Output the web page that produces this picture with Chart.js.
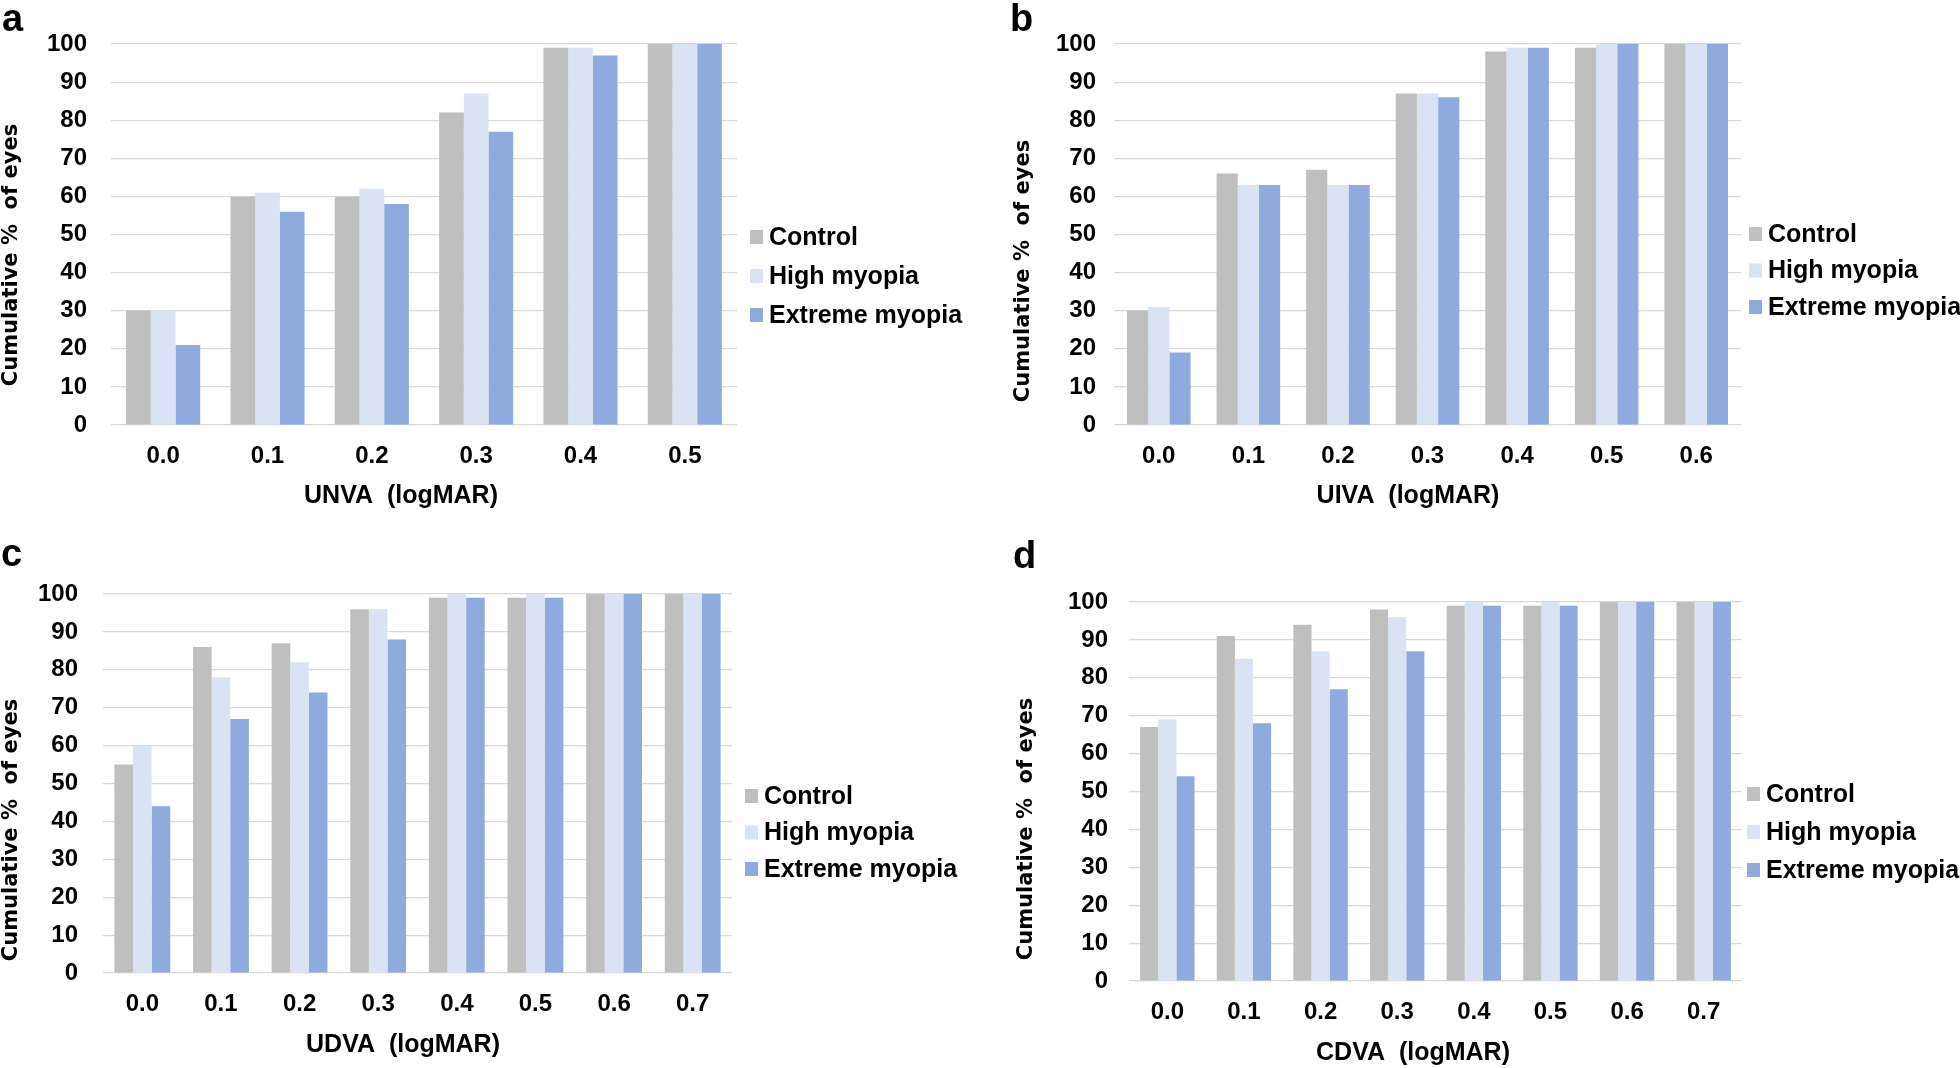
<!DOCTYPE html>
<html>
<head>
<meta charset="utf-8">
<script src="https://cdn.jsdelivr.net/npm/chart.js@4.4.1/dist/chart.umd.min.js"></script>
<style>
  html, body { margin: 0; padding: 0; background: #fff; }
  #fig { position: relative; width: 1960px; height: 1068px; background: #fff; }
  .panel { position: absolute; width: 980px; height: 534px; }
</style>
</head>
<body>
<div id="fig">
  <div class="panel" style="left:0;top:0"><canvas id="chartA" width="980" height="534"></canvas></div>
  <div class="panel" style="left:980px;top:0"><canvas id="chartB" width="980" height="534"></canvas></div>
  <div class="panel" style="left:0;top:534px"><canvas id="chartC" width="980" height="534"></canvas></div>
  <div class="panel" style="left:980px;top:534px"><canvas id="chartD" width="980" height="534"></canvas></div>
</div>
<script>
// ===== data =====
const seriesNames = ['Control', 'High myopia', 'Extreme myopia'];
const seriesColors = ['#BFBFBF', '#DAE3F3', '#8FAADC'];

// a: UNVA
const unvaLabels = ['0.0', '0.1', '0.2', '0.3', '0.4', '0.5'];
const unvaControl = [30, 60, 60, 82, 99, 100];
const unvaHigh = [30, 61, 62, 87, 99, 100];
const unvaExtreme = [21, 56, 58, 77, 97, 100];

// b: UIVA
const uivaLabels = ['0.0', '0.1', '0.2', '0.3', '0.4', '0.5', '0.6'];
const uivaControl = [30, 66, 67, 87, 98, 99, 100];
const uivaHigh = [31, 63, 63, 87, 99, 100, 100];
const uivaExtreme = [19, 63, 63, 86, 99, 100, 100];

// c: UDVA
const udvaLabels = ['0.0', '0.1', '0.2', '0.3', '0.4', '0.5', '0.6', '0.7'];
const udvaControl = [55, 86, 87, 96, 99, 99, 100, 100];
const udvaHigh = [60, 78, 82, 96, 100, 100, 100, 100];
const udvaExtreme = [44, 67, 74, 88, 99, 99, 100, 100];

// d: CDVA
const cdvaLabels = ['0.0', '0.1', '0.2', '0.3', '0.4', '0.5', '0.6', '0.7'];
const cdvaControl = [67, 91, 94, 98, 99, 99, 100, 100];
const cdvaHigh = [69, 85, 87, 96, 100, 100, 100, 100];
const cdvaExtreme = [54, 68, 77, 87, 99, 99, 100, 100];

const yTitle = 'Cumulative %  of eyes';

// ===== fonts =====
const FONT = '"Liberation Sans", Arial, sans-serif';
const TITLE_FONT = '"DejaVu Sans", Verdana, sans-serif';

// ===== panel letters, axis titles and legend drawn on top =====
const panelDecor = {
    id: 'panelDecor',
    afterDraw(chart, args, o) {
        const ctx = chart.ctx;
        ctx.save();
        ctx.fillStyle = '#000';

        // panel letter
        ctx.font = 'bold 38px ' + FONT;
        ctx.textAlign = 'left';
        ctx.textBaseline = 'alphabetic';
        ctx.fillText(o.letter, o.letterX, o.letterY);

        // y title
        ctx.save();
        ctx.translate(o.yTitleX, o.yTitleY);
        ctx.rotate(-Math.PI / 2);
        ctx.font = 'bold 21px ' + TITLE_FONT;
        ctx.textAlign = 'center';
        ctx.textBaseline = 'middle';
        ctx.fillText(yTitle, 0, 0);
        ctx.restore();

        // x title
        ctx.font = 'bold 25px ' + FONT;
        ctx.textAlign = 'center';
        ctx.textBaseline = 'middle';
        ctx.fillText(o.xTitle, o.xTitleX, o.xTitleY);

        // legend
        ctx.font = 'bold 25px ' + FONT;
        ctx.textAlign = 'left';
        chart.data.datasets.forEach((ds, i) => {
            const cy = o.legendY + i * o.legendGap;
            ctx.fillStyle = ds.backgroundColor;
            ctx.fillRect(o.legendX, cy - 7, 13, 14);
            ctx.fillStyle = '#000';
            ctx.fillText(ds.label, o.legendX + 19, cy + 1);
        });
        ctx.restore();
    }
};

function makeChart(id, labels, control, high, extreme, p) {
    const values = [control, high, extreme];
    return new Chart(document.getElementById(id), {
        type: 'bar',
        data: {
            labels: labels,
            datasets: seriesNames.map((name, i) => ({
                label: name,
                data: values[i],
                backgroundColor: seriesColors[i],
                borderWidth: 0,
                barPercentage: 1.0,
                categoryPercentage: 0.71
            }))
        },
        options: {
            responsive: false,
            animation: false,
            devicePixelRatio: 1,
            layout: { padding: { left: 0, top: p.top, right: p.right, bottom: 0 } },
            plugins: {
                legend: { display: false },
                tooltip: { enabled: false },
                panelDecor: p.decor
            },
            scales: {
                x: {
                    grid: { display: false, drawTicks: false },
                    border: { display: false },
                    ticks: { color: '#000', font: { family: FONT, size: 24, weight: 'bold' }, padding: 17, maxRotation: 0 },
                    afterFit: s => { s.height = p.xH; }
                },
                y: {
                    min: 0,
                    max: 100,
                    grid: { color: '#D9D9D9', lineWidth: 1.2, drawTicks: false },
                    border: { display: false },
                    ticks: { stepSize: 10, color: '#000', font: { family: FONT, size: 24, weight: 'bold' }, padding: p.yPad },
                    afterFit: s => { s.width = p.yW; }
                }
            }
        },
        plugins: [panelDecor]
    });
}

makeChart('chartA', unvaLabels, unvaControl, unvaHigh, unvaExtreme, {
    top: 44, right: 243, xH: 109, yW: 111, yPad: 24,
    decor: { letter: 'a', letterX: 2, letterY: 31, yTitleX: 12, yTitleY: 255,
             xTitle: 'UNVA  (logMAR)', xTitleX: 401, xTitleY: 496,
             legendX: 750, legendY: 237, legendGap: 39 }
});

makeChart('chartB', uivaLabels, uivaControl, uivaHigh, uivaExtreme, {
    top: 44, right: 219, xH: 109, yW: 134, yPad: 18,
    decor: { letter: 'b', letterX: 30, letterY: 31, yTitleX: 44, yTitleY: 271,
             xTitle: 'UIVA  (logMAR)', xTitleX: 428, xTitleY: 496,
             legendX: 769, legendY: 234, legendGap: 36.5 }
});

makeChart('chartC', udvaLabels, udvaControl, udvaHigh, udvaExtreme, {
    top: 60, right: 248, xH: 95, yW: 103, yPad: 25,
    decor: { letter: 'c', letterX: 1, letterY: 32, yTitleX: 12, yTitleY: 296,
             xTitle: 'UDVA  (logMAR)', xTitleX: 403, xTitleY: 511,
             legendX: 745, legendY: 262, legendGap: 36.5 }
});

makeChart('chartD', cdvaLabels, cdvaControl, cdvaHigh, cdvaExtreme, {
    top: 68, right: 218, xH: 87, yW: 149, yPad: 21,
    decor: { letter: 'd', letterX: 33, letterY: 34, yTitleX: 47, yTitleY: 295,
             xTitle: 'CDVA  (logMAR)', xTitleX: 433, xTitleY: 519,
             legendX: 767, legendY: 260, legendGap: 38 }
});
</script>
</body>
</html>
